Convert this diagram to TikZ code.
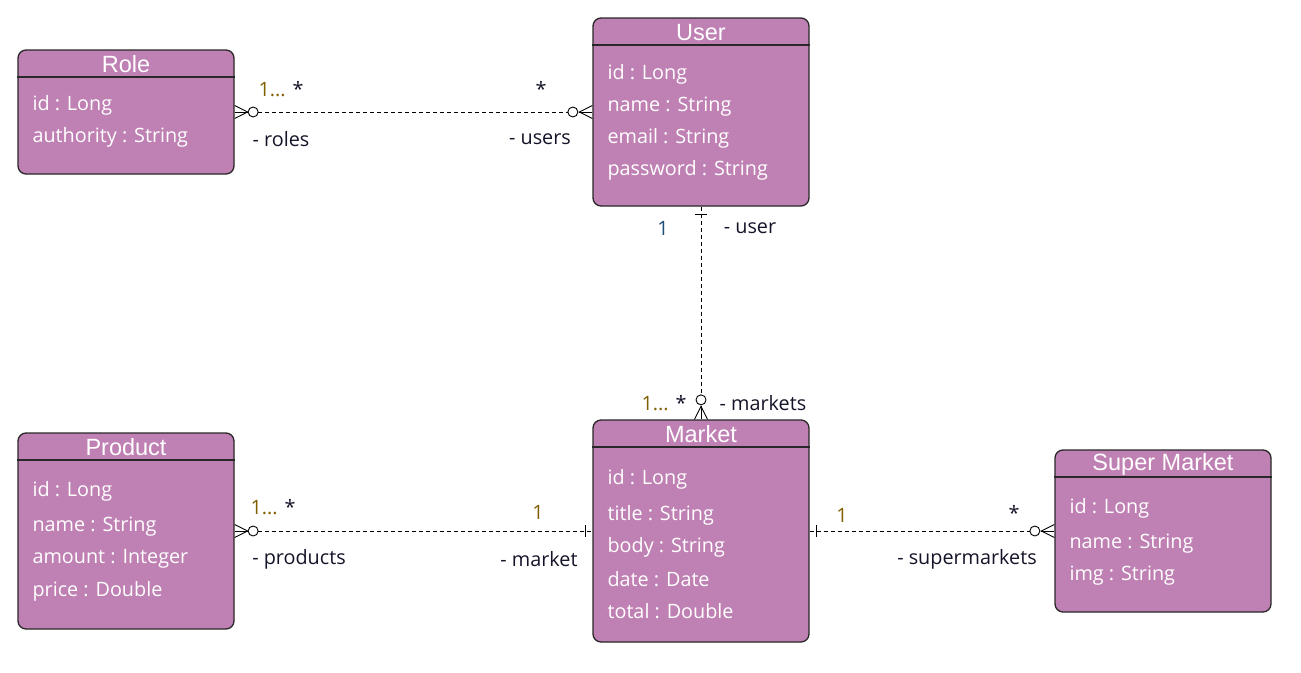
\documentclass[tikz,border=0pt]{standalone}
\usepackage{fontspec}
\setmainfont{Open Sans}
\newfontfamily\titlefont{Liberation Sans}
\usetikzlibrary{calc}
\definecolor{boxfill}{RGB}{191,128,179}
\definecolor{boxline}{RGB}{40,40,40}
\definecolor{mult}{RGB}{128,96,0}
\definecolor{lbl}{RGB}{20,20,40}
\definecolor{onecol}{RGB}{31,78,121}
\begin{document}
\begin{tikzpicture}[x=1pt,y=-1pt,
 entity/.style={draw=boxline, fill=boxfill, line width=1.3pt, rounded corners=8pt, inner sep=0pt},
 hline/.style={draw=boxline, line width=1.3pt},
 ttl/.style={font=\titlefont\fontsize{23.5}{26}\selectfont, text=white, inner sep=0pt},
 attr/.style={font=\fontsize{19.8}{22}\selectfont, text=white, anchor=west, inner sep=0pt},
 lab/.style={font=\fontsize{19.8}{22}\selectfont, text=lbl, inner sep=0pt},
 conn/.style={draw=black, line width=0.9pt, dash pattern=on 4pt off 3pt},
 sym/.style={draw=black, line width=0.9pt, solid}]
\useasboundingbox (0,0) rectangle (1301,672);

% ---------- entities ----------
\node[entity, minimum width=216pt, minimum height=124pt] (role) at (126,112) {};
\node[entity, minimum width=216pt, minimum height=188pt] (user) at (701,112) {};
\node[entity, minimum width=216pt, minimum height=196pt] (product) at (126,531) {};
\node[entity, minimum width=216pt, minimum height=222pt] (market) at (701,531) {};
\node[entity, minimum width=216pt, minimum height=162pt] (super) at (1163,531) {};

\foreach \n in {role,user,product,market,super}{
  \draw[hline] ([yshift=-27.5pt]\n.north west) -- ([yshift=-27.5pt]\n.north east);
}

\node[ttl] (roleT) at ([yshift=-15pt]role.north) {Role};
\node[ttl] (userT) at ([yshift=-15pt]user.north) {User};
\node[ttl] (productT) at ([yshift=-15pt]product.north) {Product};
\node[ttl] (marketT) at ([yshift=-15pt]market.north) {Market};
\node[ttl] (superT) at ([yshift=-15pt]super.north) {Super Market};

% Role attributes
\node[attr] (role1) at ([xshift=15pt,yshift=-56.5pt]role.north west) {id : Long};
\node[attr] (role2) at ([xshift=15pt,yshift=-88.5pt]role.north west) {authority : String};
% User attributes
\node[attr] (user1) at ([xshift=15pt,yshift=-57.5pt]user.north west) {id : Long};
\node[attr] (user2) at ([xshift=15pt,yshift=-89.5pt]user.north west) {name : String};
\node[attr] (user3) at ([xshift=15pt,yshift=-121.5pt]user.north west) {email : String};
\node[attr] (user4) at ([xshift=15pt,yshift=-153.5pt]user.north west) {password : String};
% Product attributes
\node[attr] (prod1) at ([xshift=15pt,yshift=-58.5pt]product.north west) {id : Long};
\node[attr] (prod2) at ([xshift=15pt,yshift=-94.5pt]product.north west) {name : String};
\node[attr] (prod3) at ([xshift=15pt,yshift=-126.5pt]product.north west) {amount : Integer};
\node[attr] (prod4) at ([xshift=15pt,yshift=-158.5pt]product.north west) {price : Double};
% Market attributes
\node[attr] (mk1) at ([xshift=15pt,yshift=-59.5pt]market.north west) {id : Long};
\node[attr] (mk2) at ([xshift=15pt,yshift=-95.5pt]market.north west) {title : String};
\node[attr] (mk3) at ([xshift=15pt,yshift=-127.5pt]market.north west) {body : String};
\node[attr] (mk4) at ([xshift=15pt,yshift=-159.5pt]market.north west) {date : Date};
\node[attr] (mk5) at ([xshift=15pt,yshift=-191.5pt]market.north west) {total : Double};
% Super Market attributes
\node[attr] (sm1) at ([xshift=15pt,yshift=-58.5pt]super.north west) {id : Long};
\node[attr] (sm2) at ([xshift=15pt,yshift=-94.5pt]super.north west) {name : String};
\node[attr] (sm3) at ([xshift=15pt,yshift=-126.5pt]super.north west) {img : String};

% ---------- Role -- User ----------
\draw[conn] ($(role.east)+(23.5,0)$) -- ($(user.west)+(-24.5,0)$);
\draw[sym] ($(role.east)+(0,-6.5)$) -- ($(role.east)+(13,0)$) -- ($(role.east)+(0,6.5)$);
\draw[sym] (role.east) -- ($(role.east)+(13,0)$);
\draw[sym, fill=white] ($(role.east)+(18.5,0)$) circle (5pt);
\draw[sym] ($(user.west)+(0,-6.5)$) -- ($(user.west)+(-13,0)$) -- ($(user.west)+(0,6.5)$);
\draw[sym] (user.west) -- ($(user.west)+(-13,0)$);
\draw[sym, fill=white] ($(user.west)+(-19.5,0)$) circle (5pt);
\node[lab] (rl1) at (281,89) {{\color{mult}1...} *};
\node[lab] (rl2) at (281,139) {- roles};
\node[lab] (ul1) at (541,89) {*};
\node[lab] (ul2) at (540,139) {- users};

% ---------- User -- Market ----------
\draw[conn] (user.south) -- ($(market.north)+(0,-25)$);
\draw[sym] ($(user.south)+(-6,8)$) -- ($(user.south)+(6,8)$);
\draw[sym] ($(market.north)+(-6.5,0)$) -- ($(market.north)+(0,-13)$) -- ($(market.north)+(6.5,0)$);
\draw[sym] (market.north) -- ($(market.north)+(0,-13)$);
\draw[sym, fill=white] ($(market.north)+(0,-19.5)$) circle (5pt);
\node[lab, text=onecol] (uml1) at (663,228) {1};
\node[lab] (uml2) at (750,228) {- user};
\node[lab] (uml3) at (664,403) {{\color{mult}1...} *};
\node[lab] (uml4) at (763,403) {- markets};

% ---------- Product -- Market ----------
\draw[conn] ($(product.east)+(23.5,0)$) -- (market.west);
\draw[sym] ($(product.east)+(0,-6.5)$) -- ($(product.east)+(13,0)$) -- ($(product.east)+(0,6.5)$);
\draw[sym] (product.east) -- ($(product.east)+(13,0)$);
\draw[sym, fill=white] ($(product.east)+(18.5,0)$) circle (5pt);
\draw[sym] ($(market.west)+(-7,-6)$) -- ($(market.west)+(-7,6)$);
\node[lab] (pm1) at (273,507) {{\color{mult}1...} *};
\node[lab] (pm2) at (299,559) {- products};
\node[lab, text=mult] (pm3) at (538,512) {1};
\node[lab] (pm4) at (539,559) {- market};

% ---------- Market -- Super Market ----------
\draw[conn] (market.east) -- ($(super.west)+(-24.5,0)$);
\draw[sym] ($(market.east)+(7,-6)$) -- ($(market.east)+(7,6)$);
\draw[sym] ($(super.west)+(0,-6.5)$) -- ($(super.west)+(-13,0)$) -- ($(super.west)+(0,6.5)$);
\draw[sym] (super.west) -- ($(super.west)+(-13,0)$);
\draw[sym, fill=white] ($(super.west)+(-19.5,0)$) circle (5pt);
\node[lab, text=mult] (ms1) at (842,515) {1};
\node[lab] (ms2) at (967,559) {- supermarkets};
\node[lab] (ms3) at (1014,513) {*};
\end{tikzpicture}
\end{document}
